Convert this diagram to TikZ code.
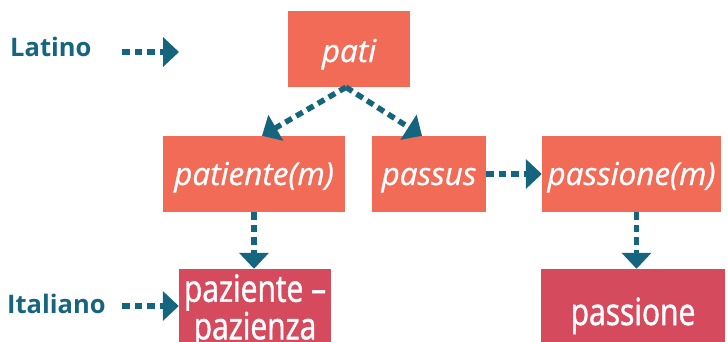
\documentclass[tikz,border=0pt]{standalone}
\usepackage{fontspec}
\setmainfont{Open Sans}
\newfontfamily\boxfont{Open Sans}[FakeStretch=0.8,FakeBold=1.3]
\newfontfamily\latfont{Open Sans}[FakeBold=0.8]
\usetikzlibrary{arrows.meta}
\definecolor{orng}{HTML}{F26B57}
\definecolor{rosso}{HTML}{D64A5E}
\definecolor{tealc}{HTML}{16657E}
\begin{document}
\begin{tikzpicture}[x=1pt,y=-1pt,
 latbox/.style={fill=orng, text=white, inner sep=0pt, font=\latfont\fontsize{31.5}{36}\selectfont\itshape, text height=24pt, text depth=2pt, minimum height=76pt},
 itbox/.style={fill=rosso, text=white, inner sep=0pt, font=\boxfont\fontsize{37.5}{36}\selectfont, minimum height=80pt, align=center},
 lbl/.style={text=tealc, font=\fontsize{25.5}{30}\selectfont\bfseries, inner sep=0pt, anchor=base west},
 arr/.style={draw=tealc, line width=5.5pt, dash pattern=on 7.5pt off 5pt, -{Triangle[length=16pt,width=29pt]}}]
\useasboundingbox (0,0) rectangle (728,341);
\clip (0,0) rectangle (728,341);
\node[latbox, minimum width=122pt, text height=28pt] (pati) at (349,49) {pati};
\node[latbox, minimum width=182pt] (patiente) at (254,174) {patiente(m)};
\node[latbox, minimum width=114pt] (passus) at (429,174) {passus};
\node[latbox, minimum width=179pt] (passionem) at (631.5,174) {passione(m)};
\node[itbox, minimum width=152pt] (paziente) at (255,309) {\rule{0pt}{32pt}paziente –\\pazienza};
\node[itbox, minimum width=184pt, text height=33pt, text depth=1pt] (passione) at (633,309) {passione};
\node[lbl] (latino) at (10,56) {Latino};
\node[lbl] (italiano) at (7,313) {Italiano};
\coordinate (latA) at (122,52);
\coordinate (latB) at (179,52);
\coordinate (itA) at (122,306);
\draw[arr] (latA) -- (latB);
\draw[arr] (itA) -- (itA -| paziente.west);
\draw[arr] ([xshift=-3pt]pati.south) -- ([xshift=8pt]patiente.north);
\draw[arr] ([xshift=-3pt]pati.south) -- ([xshift=-7pt]passus.north);
\draw[arr] (passus.east) -- (passionem.west);
\draw[arr] (patiente.south) -- (patiente.south |- paziente.north);
\draw[arr] ([xshift=5pt]passionem.south) -- ([xshift=5pt]passionem.south |- passione.north);
\end{tikzpicture}
\end{document}
